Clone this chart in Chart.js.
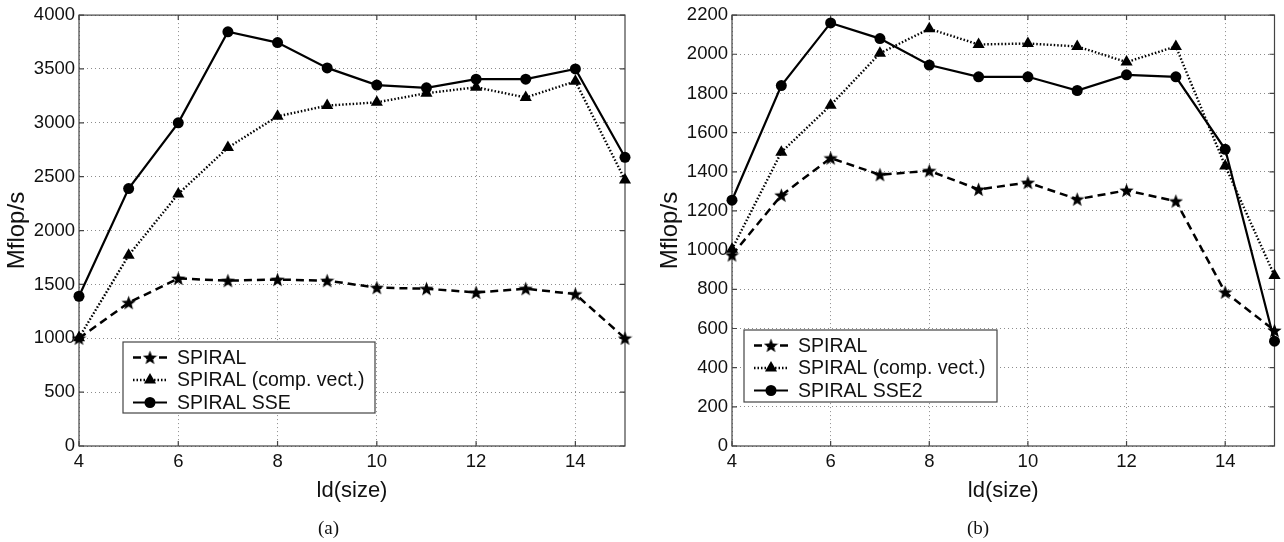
<!DOCTYPE html>
<html>
<head>
<meta charset="utf-8">
<script src="https://cdn.jsdelivr.net/npm/chart.js@4.4.0/dist/chart.umd.min.js"></script>
<style>
  body { margin: 0; background: #fff; width: 1284px; height: 542px; overflow: hidden; position: relative; }
  .box { position: absolute; top: 0; width: 642px; height: 542px; }
  #boxA { left: 0; }
  #boxB { left: 642px; }
  .cap { position: absolute; top: 517px; font-family: "Liberation Serif", "Times New Roman", serif; font-size: 19px; line-height: 22px; color: #111; }
</style>
</head>
<body>
<div class="box" id="boxA"><canvas id="chartA"></canvas></div>
<div class="box" id="boxB"><canvas id="chartB"></canvas></div>
<div class="cap" style="left:318px">(a)</div>
<div class="cap" style="left:967px">(b)</div>

<script>
// ld(size) sur l'axe x
const sizes = [4, 5, 6, 7, 8, 9, 10, 11, 12, 13, 14, 15];
const xTicks = [4, 6, 8, 10, 12, 14];
const yTicksA = [0, 500, 1000, 1500, 2000, 2500, 3000, 3500, 4000];
const yTicksB = [0, 200, 400, 600, 800, 1000, 1200, 1400, 1600, 1800, 2000, 2200];

const namesA = ['SPIRAL', 'SPIRAL (comp. vect.)', 'SPIRAL SSE'];
const namesB = ['SPIRAL', 'SPIRAL (comp. vect.)', 'SPIRAL SSE2'];

// (a) Mflop/s
const spiralA = [1000, 1330, 1555, 1535, 1545, 1535, 1470, 1460, 1425, 1460, 1410, 1000];
const vectA   = [1005, 1770, 2340, 2770, 3060, 3160, 3190, 3275, 3330, 3235, 3385, 2470];
const sseA    = [1390, 2390, 3000, 3845, 3745, 3510, 3350, 3325, 3405, 3405, 3500, 2680];

// (b) Mflop/s
const spiralB = [975, 1280, 1470, 1385, 1405, 1310, 1345, 1260, 1305, 1250, 785, 590];
const vectB   = [1005, 1500, 1740, 2005, 2130, 2050, 2055, 2040, 1960, 2040, 1430, 870];
const sseB    = [1255, 1840, 2160, 2080, 1945, 1885, 1885, 1815, 1895, 1885, 1515, 535];

Chart.defaults.font.family = '"Liberation Sans", Arial, sans-serif';
Chart.defaults.color = '#111';

// étoile pleine pour la série SPIRAL
function makeStar(size) {
  const c = document.createElement('canvas');
  c.width = size; c.height = size;
  const g = c.getContext('2d');
  const cx = size / 2, cy = size / 2 + 0.6, ro = size / 2, ri = ro * 0.42;
  g.beginPath();
  for (let i = 0; i < 10; i++) {
    const r = i % 2 ? ri : ro;
    const a = -Math.PI / 2 + i * Math.PI / 5;
    g.lineTo(cx + r * Math.cos(a), cy + r * Math.sin(a));
  }
  g.closePath();
  g.fillStyle = '#000';
  g.fill();
  return c;
}
const star = makeStar(15);

function makeDatasets(names, s1, s2, s3) {
  const pts = arr => sizes.map((x, i) => ({ x: x, y: arr[i] }));
  return [
    { label: names[0], data: pts(s1), borderColor: '#000', backgroundColor: '#000', pointBackgroundColor: '#000',
      borderWidth: 2.5, borderDash: [8, 5], pointStyle: star, pointRadius: 7, clip: false },
    { label: names[1], data: pts(s2), borderColor: '#000', backgroundColor: '#000', pointBackgroundColor: '#000',
      borderWidth: 2.4, borderDash: [1.5, 2], pointStyle: 'triangle', pointRadius: 7, pointBorderWidth: 0, clip: false },
    { label: names[2], data: pts(s3), borderColor: '#000', backgroundColor: '#000', pointBackgroundColor: '#000',
      borderWidth: 2.2, borderDash: [], pointStyle: 'circle', pointRadius: 5.5, pointBorderWidth: 0, clip: false }
  ];
}

// cadre + petites graduations vers l'intérieur
const framePlugin = {
  id: 'frame',
  beforeDatasetsDraw(chart) {
    const { ctx, chartArea: a, scales: { x, y } } = chart;
    ctx.save();
    ctx.setLineDash([]);
    ctx.strokeStyle = '#444';
    ctx.lineWidth = 1.2;
    ctx.strokeRect(a.left, a.top, a.right - a.left, a.bottom - a.top);
    ctx.beginPath();
    y.ticks.forEach(t => {
      const py = y.getPixelForValue(t.value);
      ctx.moveTo(a.left, py); ctx.lineTo(a.left + 5, py);
      ctx.moveTo(a.right, py); ctx.lineTo(a.right - 5, py);
    });
    x.ticks.forEach(t => {
      const px = x.getPixelForValue(t.value);
      ctx.moveTo(px, a.bottom); ctx.lineTo(px, a.bottom - 5);
      ctx.moveTo(px, a.top); ctx.lineTo(px, a.top + 5);
    });
    ctx.stroke();
    ctx.restore();
  }
};

// légende encadrée à l'intérieur du graphique
const legendPlugin = {
  id: 'boxLegend',
  afterDatasetsDraw(chart, args, opts) {
    const ctx = chart.ctx;
    ctx.save();
    ctx.fillStyle = '#fff';
    ctx.fillRect(opts.left, opts.top, opts.width, opts.height);
    ctx.strokeStyle = '#444';
    ctx.lineWidth = 1.2;
    ctx.setLineDash([]);
    ctx.strokeRect(opts.left, opts.top, opts.width, opts.height);
    chart.data.datasets.forEach((ds, i) => {
      const cy = opts.top + 15.5 + i * 22.5;
      ctx.strokeStyle = ds.borderColor;
      ctx.lineWidth = ds.borderWidth;
      ctx.setLineDash(ds.borderDash || []);
      ctx.beginPath();
      ctx.moveTo(opts.left + 10, cy);
      ctx.lineTo(opts.left + 44, cy);
      ctx.stroke();
      ctx.setLineDash([]);
      ctx.fillStyle = '#000';
      Chart.helpers.drawPoint(ctx, { pointStyle: ds.pointStyle, radius: ds.pointRadius, rotation: 0, borderWidth: 0 }, opts.left + 27, cy);
      ctx.fillStyle = '#111';
      ctx.font = '19.5px "Liberation Sans", Arial, sans-serif';
      ctx.textBaseline = 'middle';
      ctx.fillText(ds.label, opts.left + 54, cy + 1);
    });
    ctx.restore();
  }
};

function makeChart(id, datasets, yMax, yTicks, yWidth, titlePad, padRight, legendPos) {
  return new Chart(document.getElementById(id), {
    type: 'line',
    data: { datasets: datasets },
    options: {
      responsive: true,
      maintainAspectRatio: false,
      animation: false,
      layout: { padding: { left: 0, right: padRight, top: 15, bottom: 0 } },
      plugins: {
        legend: { display: false },
        tooltip: { enabled: false },
        boxLegend: legendPos
      },
      scales: {
        x: {
          type: 'linear',
          min: 4,
          max: 15,
          afterBuildTicks: s => { s.ticks = xTicks.map(v => ({ value: v })); },
          afterFit: s => { s.height = 96; },
          grid: { color: '#8c8c8c', lineWidth: 1, drawTicks: false },
          border: { display: false, dash: [1, 3] },
          ticks: { padding: 5, font: { size: 18.5 }, color: '#111', callback: v => String(v) },
          title: { display: true, text: 'ld(size)', font: { size: 22 }, color: '#111', padding: { top: 0, bottom: 38 } }
        },
        y: {
          min: 0,
          max: yMax,
          afterBuildTicks: s => { s.ticks = yTicks.map(v => ({ value: v })); },
          afterFit: s => { s.width = yWidth; },
          grid: { color: '#8c8c8c', lineWidth: 1, drawTicks: false },
          border: { display: false, dash: [1, 3] },
          ticks: { padding: 4, font: { size: 18.5 }, color: '#111', callback: v => String(v) },
          title: { display: true, text: 'Mflop/s', font: { size: 24 }, color: '#111', padding: { top: titlePad, bottom: 0 } }
        }
      }
    },
    plugins: [framePlugin, legendPlugin]
  });
}

makeChart('chartA', makeDatasets(namesA, spiralA, vectA, sseA), 4000, yTicksA, 79, 2.5, 17,
  { left: 123, top: 342, width: 252, height: 71 });
makeChart('chartB', makeDatasets(namesB, spiralB, vectB, sseB), 2200, yTicksB, 90, 13.5, 5,
  { left: 102, top: 330, width: 253, height: 72 });
</script>
</body>
</html>
